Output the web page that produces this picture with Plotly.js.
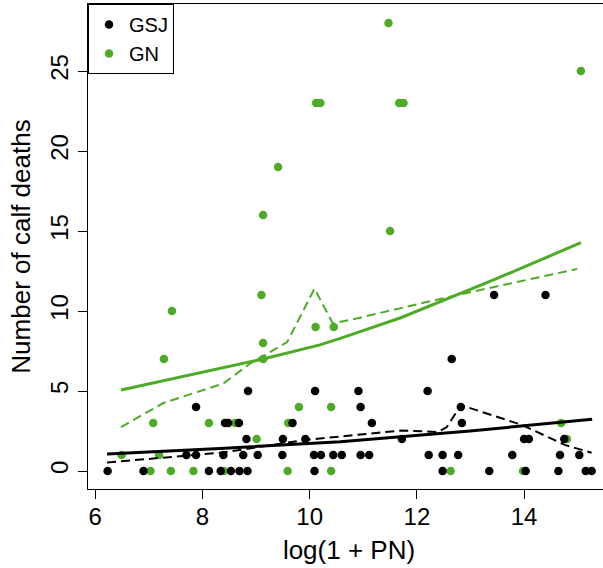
<!DOCTYPE html>
<html>
<head>
<meta charset="utf-8">
<script src="https://cdn.plot.ly/plotly-3.0.1.min.js"></script>
<style>
html, body { margin: 0; padding: 0; overflow: hidden; background: #fff; }
#chart { width: 610px; height: 568px; }
</style>
</head>
<body>
<div id="chart"></div>
<script>
// ---- GSJ (black) observations ----
const gsjX = [6.23, 6.90, 8.12, 8.34, 8.53, 8.69, 8.84, 10.09, 12.48, 13.35, 14.03, 14.64, 15.15, 15.26,
              7.70, 7.88, 8.39, 8.76, 9.03, 9.49, 10.08, 10.21, 10.44, 10.60, 10.95, 11.11, 12.22, 12.48, 12.77, 13.78, 14.67, 15.03,
              8.82, 9.50, 9.92, 11.72, 14.00, 14.09, 14.75,
              8.42, 8.48, 8.68, 9.68, 11.16, 12.84,
              7.88, 10.95, 12.82,
              8.85, 10.10, 10.91, 12.20,
              12.65,
              13.44, 14.40];
const gsjY = [0, 0, 0, 0, 0, 0, 0, 0, 0, 0, 0, 0, 0, 0,
              1, 1, 1, 1, 1, 1, 1, 1, 1, 1, 1, 1, 1, 1, 1, 1, 1, 1,
              2, 2, 2, 2, 2, 2, 2,
              3, 3, 3, 3, 3, 3,
              4, 4, 4,
              5, 5, 5, 5,
              7,
              11, 11];

// ---- GN (green) observations ----
const gnX = [7.03, 7.41, 7.83, 8.40, 9.59, 10.40, 12.63, 13.98,
             6.49, 7.19,
             9.01, 14.80,
             7.08, 8.12, 8.61, 9.60, 14.69,
             9.80, 10.40,
             7.28, 9.13,
             9.13,
             10.11, 10.45,
             7.43,
             9.10,
             11.50,
             9.13,
             9.41,
             10.12, 10.20, 11.67, 11.75,
             15.06,
             11.47];
const gnY = [0, 0, 0, 0, 0, 0, 0, 0,
             1, 1,
             2, 2,
             3, 3, 3, 3, 3,
             4, 4,
             7, 7,
             8,
             9, 9,
             10,
             11,
             15,
             16,
             19,
             23, 23, 23, 23,
             25,
             28];

// ---- fitted curves (solid) ----
const gsjFitX = [6.22, 8.33, 10.57, 12.99, 15.27];
const gsjFitY = [1.06, 1.41, 1.83, 2.50, 3.23];
const gnFitX  = [6.48, 8.23, 9.13, 10.19, 10.57, 11.70, 13.43, 15.06];
const gnFitY  = [5.06, 6.31, 7.00, 7.88, 8.29, 9.58, 11.94, 14.27];

// ---- smoothed curves (dashed) ----
const gsjSmX = [6.22, 8.39, 9.91, 10.57, 11.70, 12.39, 12.56, 12.82, 13.96, 14.76, 15.26];
const gsjSmY = [0.53, 1.16, 1.94, 2.16, 2.53, 2.44, 2.75, 4.12, 2.88, 1.63, 1.14];
const gnSmX  = [6.48, 7.27, 8.39, 8.89, 9.58, 10.09, 10.43, 10.75, 12.62, 14.99];
const gnSmY  = [2.75, 4.25, 5.47, 6.72, 8.06, 11.40, 9.23, 9.44, 10.90, 12.63];

const GREEN = '#4dac26';
const BLACK = '#000000';
const FONT = 'Liberation Sans, Arial, Helvetica, sans-serif';

const traces = [
  { x: gnX, y: gnY, type: 'scatter', mode: 'markers', name: 'GN', legendrank: 2,
    marker: { color: GREEN, size: 8.5 }, hoverinfo: 'x+y' },
  { x: gsjX, y: gsjY, type: 'scatter', mode: 'markers', name: 'GSJ', legendrank: 1,
    marker: { color: BLACK, size: 8.5 }, hoverinfo: 'x+y' },
  { x: gnFitX, y: gnFitY, type: 'scatter', mode: 'lines', showlegend: false,
    line: { color: GREEN, width: 3 }, hoverinfo: 'skip' },
  { x: gnSmX, y: gnSmY, type: 'scatter', mode: 'lines', showlegend: false,
    line: { color: GREEN, width: 2, dash: '9px,5px' }, hoverinfo: 'skip' },
  { x: gsjFitX, y: gsjFitY, type: 'scatter', mode: 'lines', showlegend: false,
    line: { color: BLACK, width: 3 }, hoverinfo: 'skip' },
  { x: gsjSmX, y: gsjSmY, type: 'scatter', mode: 'lines', showlegend: false,
    line: { color: BLACK, width: 2, dash: '9px,5px' }, hoverinfo: 'skip' }
];

const layout = {
  width: 610, height: 568,
  margin: { l: 88, r: 0, t: 4, b: 79 },
  paper_bgcolor: '#ffffff', plot_bgcolor: '#ffffff',
  font: { family: FONT, color: '#000', size: 24 },
  showlegend: true,
  legend: {
    x: 0, y: 1, xanchor: 'left', yanchor: 'top', xref: 'paper', yref: 'paper',
    bgcolor: '#ffffff', bordercolor: '#000', borderwidth: 1,
    font: { family: FONT, size: 20, color: '#000' },
    traceorder: 'normal', tracegroupgap: 0
  },
  xaxis: {
    range: [5.864, 15.603], tickvals: [6, 8, 10, 12, 14], ticktext: ['6', '8', '10', '12', '14'],
    ticks: 'outside', ticklen: 9, tickwidth: 1, tickcolor: '#000',
    showline: true, linecolor: '#000', linewidth: 1, mirror: true,
    showgrid: false, zeroline: false, ticklabelstandoff: -3,
    tickfont: { family: FONT, size: 24, color: '#000' },
    title: { text: 'log(1 + PN)', font: { family: FONT, size: 26, color: '#000' }, standoff: 12 }
  },
  yaxis: {
    range: [-1.125, 29.19], tickvals: [0, 5, 10, 15, 20, 25], ticktext: ['0', '5', '10', '15', '20', '25'],
    ticks: 'outside', ticklen: 9, tickwidth: 1, tickcolor: '#000', tickangle: -90,
    showline: true, linecolor: '#000', linewidth: 1, mirror: true,
    showgrid: false, zeroline: false,
    tickfont: { family: FONT, size: 24, color: '#000' },
    title: { text: 'Number of calf deaths', font: { family: FONT, size: 26, color: '#000' }, standoff: 8 }
  }
};

Plotly.newPlot('chart', traces, layout, { displayModeBar: false, staticPlot: true });
</script>
</body>
</html>
